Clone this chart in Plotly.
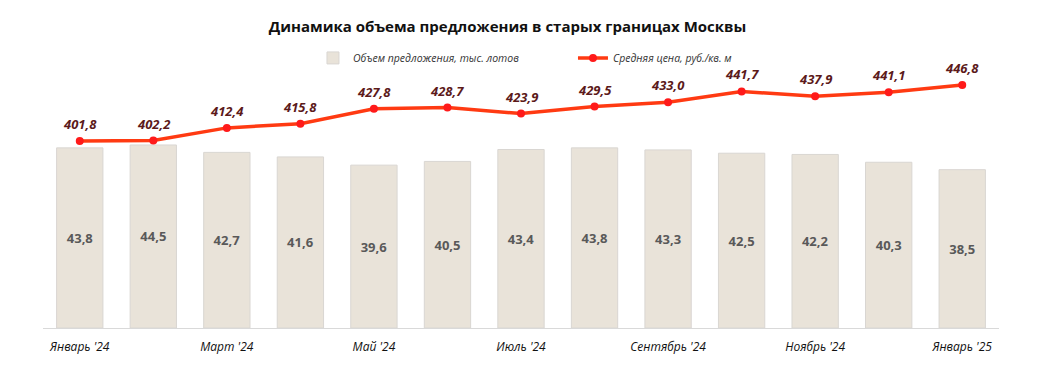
import plotly.graph_objects as go

months = ["Январь '24", "Февраль '24", "Март '24", "Апрель '24", "Май '24", "Июнь '24",
          "Июль '24", "Август '24", "Сентябрь '24", "Октябрь '24", "Ноябрь '24",
          "Декабрь '24", "Январь '25"]
volume = [43.8, 44.5, 42.7, 41.6, 39.6, 40.5, 43.4, 43.8, 43.3, 42.5, 42.2, 40.3, 38.5]
price = [401.8, 402.2, 412.4, 415.8, 427.8, 428.7, 423.9, 429.5, 433.0, 441.7, 437.9, 441.1, 446.8]
tick_labels = ["Январь '24", "", "Март '24", "", "Май '24", "", "Июль '24", "",
               "Сентябрь '24", "", "Ноябрь '24", "", "Январь '25"]

def ru(v):
    return f"{v:.1f}".replace(".", ",")

x = list(range(len(months)))
font = "Open Sans"

fig = go.Figure()
fig.add_trace(go.Bar(
    x=x, y=volume, name="Объем предложения, тыс. лотов",
    marker=dict(color="#E9E3D9", line=dict(color="#D9D6D2", width=1)),
    width=0.63,
    text=[ru(v) for v in volume], textposition="inside", insidetextanchor="middle",
    textfont=dict(family=font, size=13, color="#595959", weight="bold"),
    hoverinfo="skip",
))
fig.add_trace(go.Scatter(
    x=x, y=price, name="Средняя цена, руб./кв. м", yaxis="y2",
    mode="lines+markers",
    line=dict(color="#FF3A12", width=3.5),
    marker=dict(color="#FF1A1A", size=8),
))
for xi, p in zip(x, price):
    fig.add_annotation(x=xi, y=p, xref="x", yref="y2", text=ru(p), showarrow=False,
                       yshift=17, font=dict(family=font, size=13, color="#5C1A1A",
                                            weight="bold", style="italic"))

fig.update_layout(
    width=1044, height=375,
    margin=dict(l=35, r=53, t=72, b=55),
    paper_bgcolor="white", plot_bgcolor="white",
    title=dict(text="Динамика объема предложения в старых границах Москвы",
               x=0.4785, xanchor="center", y=0.949, yanchor="middle",
               font=dict(family=font, size=15, color="#111111", weight="bold")),
    legend=dict(orientation="h", x=0.2824, xanchor="left", y=1.089, yanchor="middle",
                font=dict(family=font, size=10.5, color="#333333", style="italic"),
                itemwidth=30, tracegroupgap=0, entrywidthmode="pixels", entrywidth=215),
    showlegend=True,
    bargap=0.37,
    xaxis=dict(range=[-0.5, 12.5], tickvals=x, ticktext=tick_labels, showgrid=False,
               showline=True, linecolor="#D9D9D9", linewidth=1, ticks="",
               tickfont=dict(family=font, size=12, color="#111111", style="italic"),
               ticklabelstandoff=8),
    yaxis=dict(range=[0, 60.3], visible=False, showgrid=False),
    yaxis2=dict(range=[251.5, 450.9], overlaying="y", visible=False, showgrid=False),
)

fig.write_html("out.html")
